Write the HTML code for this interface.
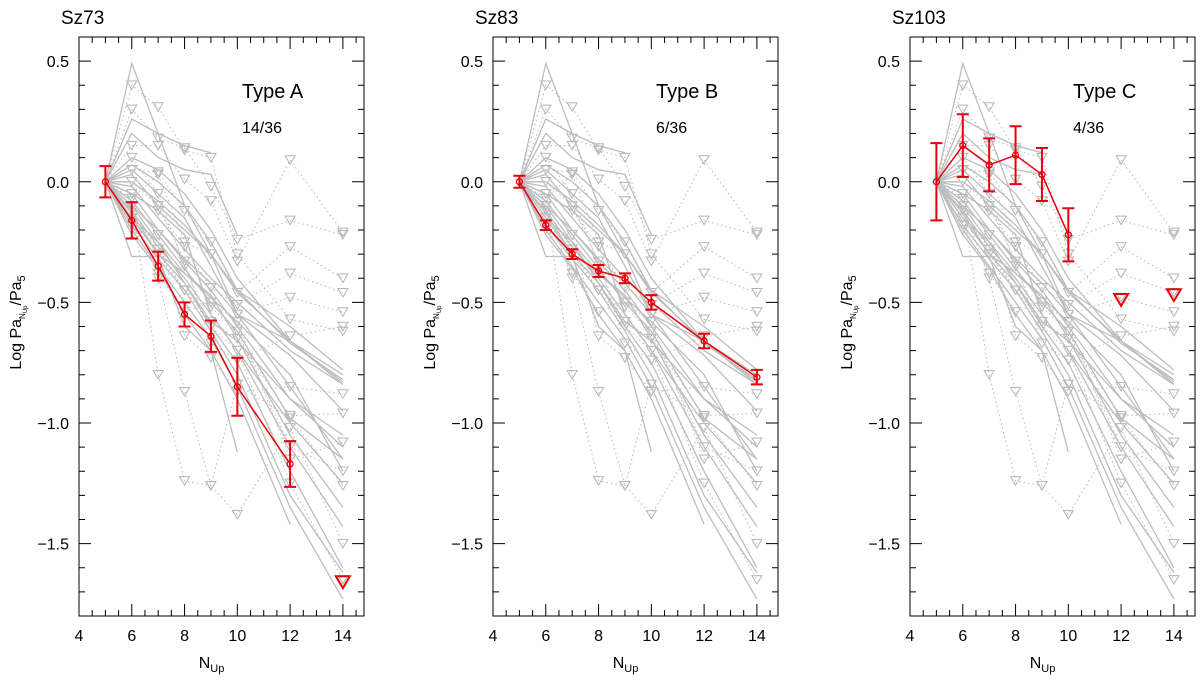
<!DOCTYPE html>
<html><head><meta charset="utf-8">
<style>
html,body{margin:0;padding:0;background:#fff;}
svg{display:block;font-family:"Liberation Sans",Arial,sans-serif;}
</style></head>
<body>
<svg id="fig" width="1200" height="681" viewBox="0 0 1200 681" xmlns="http://www.w3.org/2000/svg"></svg>
<script>
// ---- data ----
const xLevels = [5,6,7,8,9,10,12,14];
const yTicks = [0.5,0.0,-0.5,-1.0,-1.5];
const yTickLabels = ["0.5","0.0","\u22120.5","\u22121.0","\u22121.5"];
const xTicks = [4,6,8,10,12,14];
const xTickLabels = ["4","6","8","10","12","14"];
const graySolid = [
 [0,0.49,0.2,-0.1,-0.3,-0.55,-0.85,-1.15],
 [0,0.26,0.2,0.15,0.12,null,null,null],
 [0,0.2,0.1,0.05,0.03,-0.22,null,null],
 [0,0.1,0.05,-0.05,-0.2,-0.4,-0.66,-0.83],
 [0,0.07,0.0,-0.1,-0.25,-0.45,-0.67,-0.82],
 [0,0.03,-0.1,-0.2,-0.3,-0.46,-0.66,-0.8],
 [0,-0.02,-0.15,-0.28,-0.4,-0.5,-0.7,-0.84],
 [0,-0.05,-0.2,-0.33,-0.45,-0.6,-0.9,-1.05],
 [0,-0.08,-0.22,-0.36,-0.5,-0.62,-0.98,-1.15],
 [0,-0.1,-0.25,-0.38,-0.47,-0.65,-1.05,-1.35],
 [0,-0.12,-0.27,-0.4,-0.55,-0.7,-1.1,-1.43],
 [0,-0.15,-0.3,-0.42,-0.6,-0.75,-1.2,-1.6],
 [0,-0.18,-0.32,-0.45,-0.62,-0.8,-1.3,-1.62],
 [0,-0.2,-0.35,-0.5,-0.65,-0.85,-1.35,-1.73],
 [0,-0.31,-0.31,-0.6,-0.7,-1.12,null,null],
 [0,-0.13,-0.3,-0.38,-0.48,-0.58,-0.8,-1.2],
 [0,-0.22,-0.36,-0.55,-0.7,-0.9,-1.42,null],
 [0,-0.05,-0.12,-0.22,-0.55,-0.7,-1.0,-1.25],
 [0,0.05,-0.05,-0.15,-0.35,-0.55,-0.66,-0.84],
 [0,-0.1,-0.2,-0.32,-0.42,-0.55,-0.72,-0.95],
 [0,-0.15,-0.25,-0.42,-0.58,-0.66,-0.9,-1.1],
 [0,0.0,-0.08,-0.18,-0.3,-0.45,-0.6,-0.78]
];
const grayDotted = [
 [0,0.4,0.31,0.13,0.1,-0.3,-0.57,-0.62],
 [0,0.3,0.18,0.14,-0.02,-0.24,-0.16,-0.22],
 [0,0.15,0.15,0.01,-0.08,-0.33,0.09,-0.21],
 [0,-0.1,-0.4,-0.87,-1.26,-1.38,-1.02,-1.5],
 [0,-0.1,-0.8,-1.24,-1.26,-0.84,-0.98,-1.26],
 [0,0.05,0.04,-0.12,-0.25,-0.46,-0.27,-0.4],
 [0,-0.05,-0.12,-0.27,-0.44,-0.51,-0.38,-0.46],
 [0,-0.07,0.03,-0.25,-0.3,-0.55,-0.48,-0.54],
 [0,0.0,-0.1,-0.33,-0.67,-0.74,-0.64,-0.6],
 [0,-0.2,-0.22,-0.64,-0.73,-0.87,-0.85,-0.88],
 [0,-0.12,-0.28,-0.45,-0.52,-0.62,-1.1,-1.2],
 [0,-0.18,-0.38,-0.54,-0.5,-0.58,-1.15,-1.08],
 [0,0.1,-0.05,-0.35,-0.6,-0.7,-1.25,-1.65],
 [0,-0.15,-0.3,-0.45,-0.58,-0.65,-0.97,-0.96]
];
const panelTitles = ["Sz73","Sz83","Sz103"];
const panelTypes = ["Type A","Type B","Type C"];
const panelCounts = ["14/36","6/36","4/36"];
const redX_A = [5,6,7,8,9,10,12];
const redY_A = [0,-0.16,-0.35,-0.55,-0.64,-0.85,-1.17];
const redE_A = [0.065,0.075,0.06,0.05,0.065,0.12,0.095];
const limX_A = [14];
const limY_A = [-1.66];
const redX_B = [5,6,7,8,9,10,12,14];
const redY_B = [0,-0.18,-0.30,-0.37,-0.40,-0.50,-0.66,-0.81];
const redE_B = [0.025,0.02,0.02,0.025,0.02,0.03,0.03,0.03];
const limX_B = [];
const limY_B = [];
const redX_C = [5,6,7,8,9,10];
const redY_C = [0,0.15,0.07,0.11,0.03,-0.22];
const redE_C = [0.16,0.13,0.11,0.12,0.11,0.11];
const limX_C = [12,14];
const limY_C = [-0.49,-0.47];

// ---- drawing ----
const NS="http://www.w3.org/2000/svg";
const svg=document.getElementById('fig');
function mk(tag,attrs,parent){const e=document.createElementNS(NS,tag);for(const k in attrs)e.setAttribute(k,attrs[k]);(parent||svg).appendChild(e);return e;}
const X0=4,X1=14.8,Y0=-1.8,Y1=0.6;
const PW=285, TOP=37, BOT=616;
const lefts=[79,493,910];
const reds=[[redX_A,redY_A,redE_A,limX_A,limY_A],[redX_B,redY_B,redE_B,limX_B,limY_B],[redX_C,redY_C,redE_C,limX_C,limY_C]];
function tri(g,cx,cy,s,color,sw,name){
  const h=s*0.85;
  const p=mk('polygon',{points:`${cx-s/2},${cy-h/2} ${cx+s/2},${cy-h/2} ${cx},${cy+h/2}`,fill:'none',stroke:color,'stroke-width':sw},g);
  
  
}
lefts.forEach((L,pi)=>{
  const sx=v=>L+(v-X0)/(X1-X0)*PW;
  const sy=v=>TOP+(Y1-v)/(Y1-Y0)*(BOT-TOP);
  const g=mk('g',{});
  
  
  grayDotted.forEach((s,si)=>{
    let d='';xLevels.forEach((x,i)=>{if(s[i]!==null)d+=(d?'L':'M')+sx(x).toFixed(1)+','+sy(s[i]).toFixed(1);});
    const p=mk('path',{d:d,fill:'none',stroke:'#bdbdbd','stroke-width':1.1,'stroke-dasharray':'1.5,3'},g);
    
    
    xLevels.forEach((x,i)=>{if(i>0&&s[i]!==null)tri(g,sx(x),sy(s[i]),10,'#b5b5b5',1,'upper-limit-marker');});
  });
  graySolid.forEach(s=>{
    let d='';xLevels.forEach((x,i)=>{if(s[i]!==null)d+=(d?'L':'M')+sx(x).toFixed(1)+','+sy(s[i]).toFixed(1);});
    const p=mk('path',{d:d,fill:'none',stroke:'#bdbdbd','stroke-width':1.3},g);
    
    
  });
  const [rx,ry,re,lx,ly]=reds[pi];
  let d='';rx.forEach((x,i)=>{d+=(i?'L':'M')+sx(x).toFixed(1)+','+sy(ry[i]).toFixed(1);});
  const rl=mk('path',{d:d,fill:'none',stroke:'#e8000b','stroke-width':1.5},g);
  
  
  rx.forEach((x,i)=>{
    const cx=sx(x),t=sy(ry[i]+re[i]),b=sy(ry[i]-re[i]);
    const eb=mk('path',{d:`M${cx},${t}L${cx},${b}M${cx-6},${t}L${cx+6},${t}M${cx-6},${b}L${cx+6},${b}`,stroke:'#e8000b','stroke-width':2,fill:'none'},g);
    
    
    const c=mk('circle',{cx:cx,cy:sy(ry[i]),r:3,fill:'none',stroke:'#e8000b','stroke-width':1.3},g);
    
    
  });
  lx.forEach((x,i)=>tri(g,sx(x),sy(ly[i]),14,'#e8000b',2,'target-upper-limit'));
  const fr=mk('rect',{x:L,y:TOP,width:PW,height:BOT-TOP,fill:'none',stroke:'#000','stroke-width':1},g);
  
  
  let td='';
  for(let v=-18;v<=6;v++){const y=sy(v/10);const len=(v%5===0)?12:6;td+=`M${L},${y}h${len}M${L+PW},${y}h${-len}`;}
  for(let v=8;v<=29;v++){const x=sx(v/2);const len=(v%4===0)?12:6;td+=`M${x},${BOT}v${-len}M${x},${TOP}v${len}`;}
  const tk=mk('path',{d:td,stroke:'#000','stroke-width':1,fill:'none'},g);
  
  
  yTicks.forEach((v,i)=>{const t=mk('text',{x:L-10,y:sy(v)+6,'text-anchor':'end','font-size':16},g);t.textContent=yTickLabels[i];
    });
  xTicks.forEach((v,i)=>{const t=mk('text',{x:sx(v),y:BOT+25,'text-anchor':'middle','font-size':16},g);t.textContent=xTickLabels[i];
    });
  const ti=mk('text',{x:L-18,y:24,'font-size':19},g);ti.textContent=panelTitles[pi];
  
  const ty=mk('text',{x:L+163,y:98,'font-size':20},g);ty.textContent=panelTypes[pi];
  
  const tc=mk('text',{x:L+163,y:133,'font-size':16},g);tc.textContent=panelCounts[pi];
  
  const xl=mk('text',{x:L+PW/2-10,y:668,'text-anchor':'middle','font-size':16},g);
  xl.innerHTML='N<tspan font-size="11" dy="4">Up</tspan>';
  
  const yl=mk('text',{transform:`translate(${L-58},${(TOP+BOT)/2-4}) rotate(-90)`,'text-anchor':'middle','font-size':16},g);
  yl.innerHTML='Log Pa<tspan font-size="8" dy="4">N</tspan><tspan font-size="6" dy="2">Up</tspan><tspan dy="-6">/Pa</tspan><tspan font-size="11" dy="4">5</tspan>';
  
});
</script>
</body></html>
